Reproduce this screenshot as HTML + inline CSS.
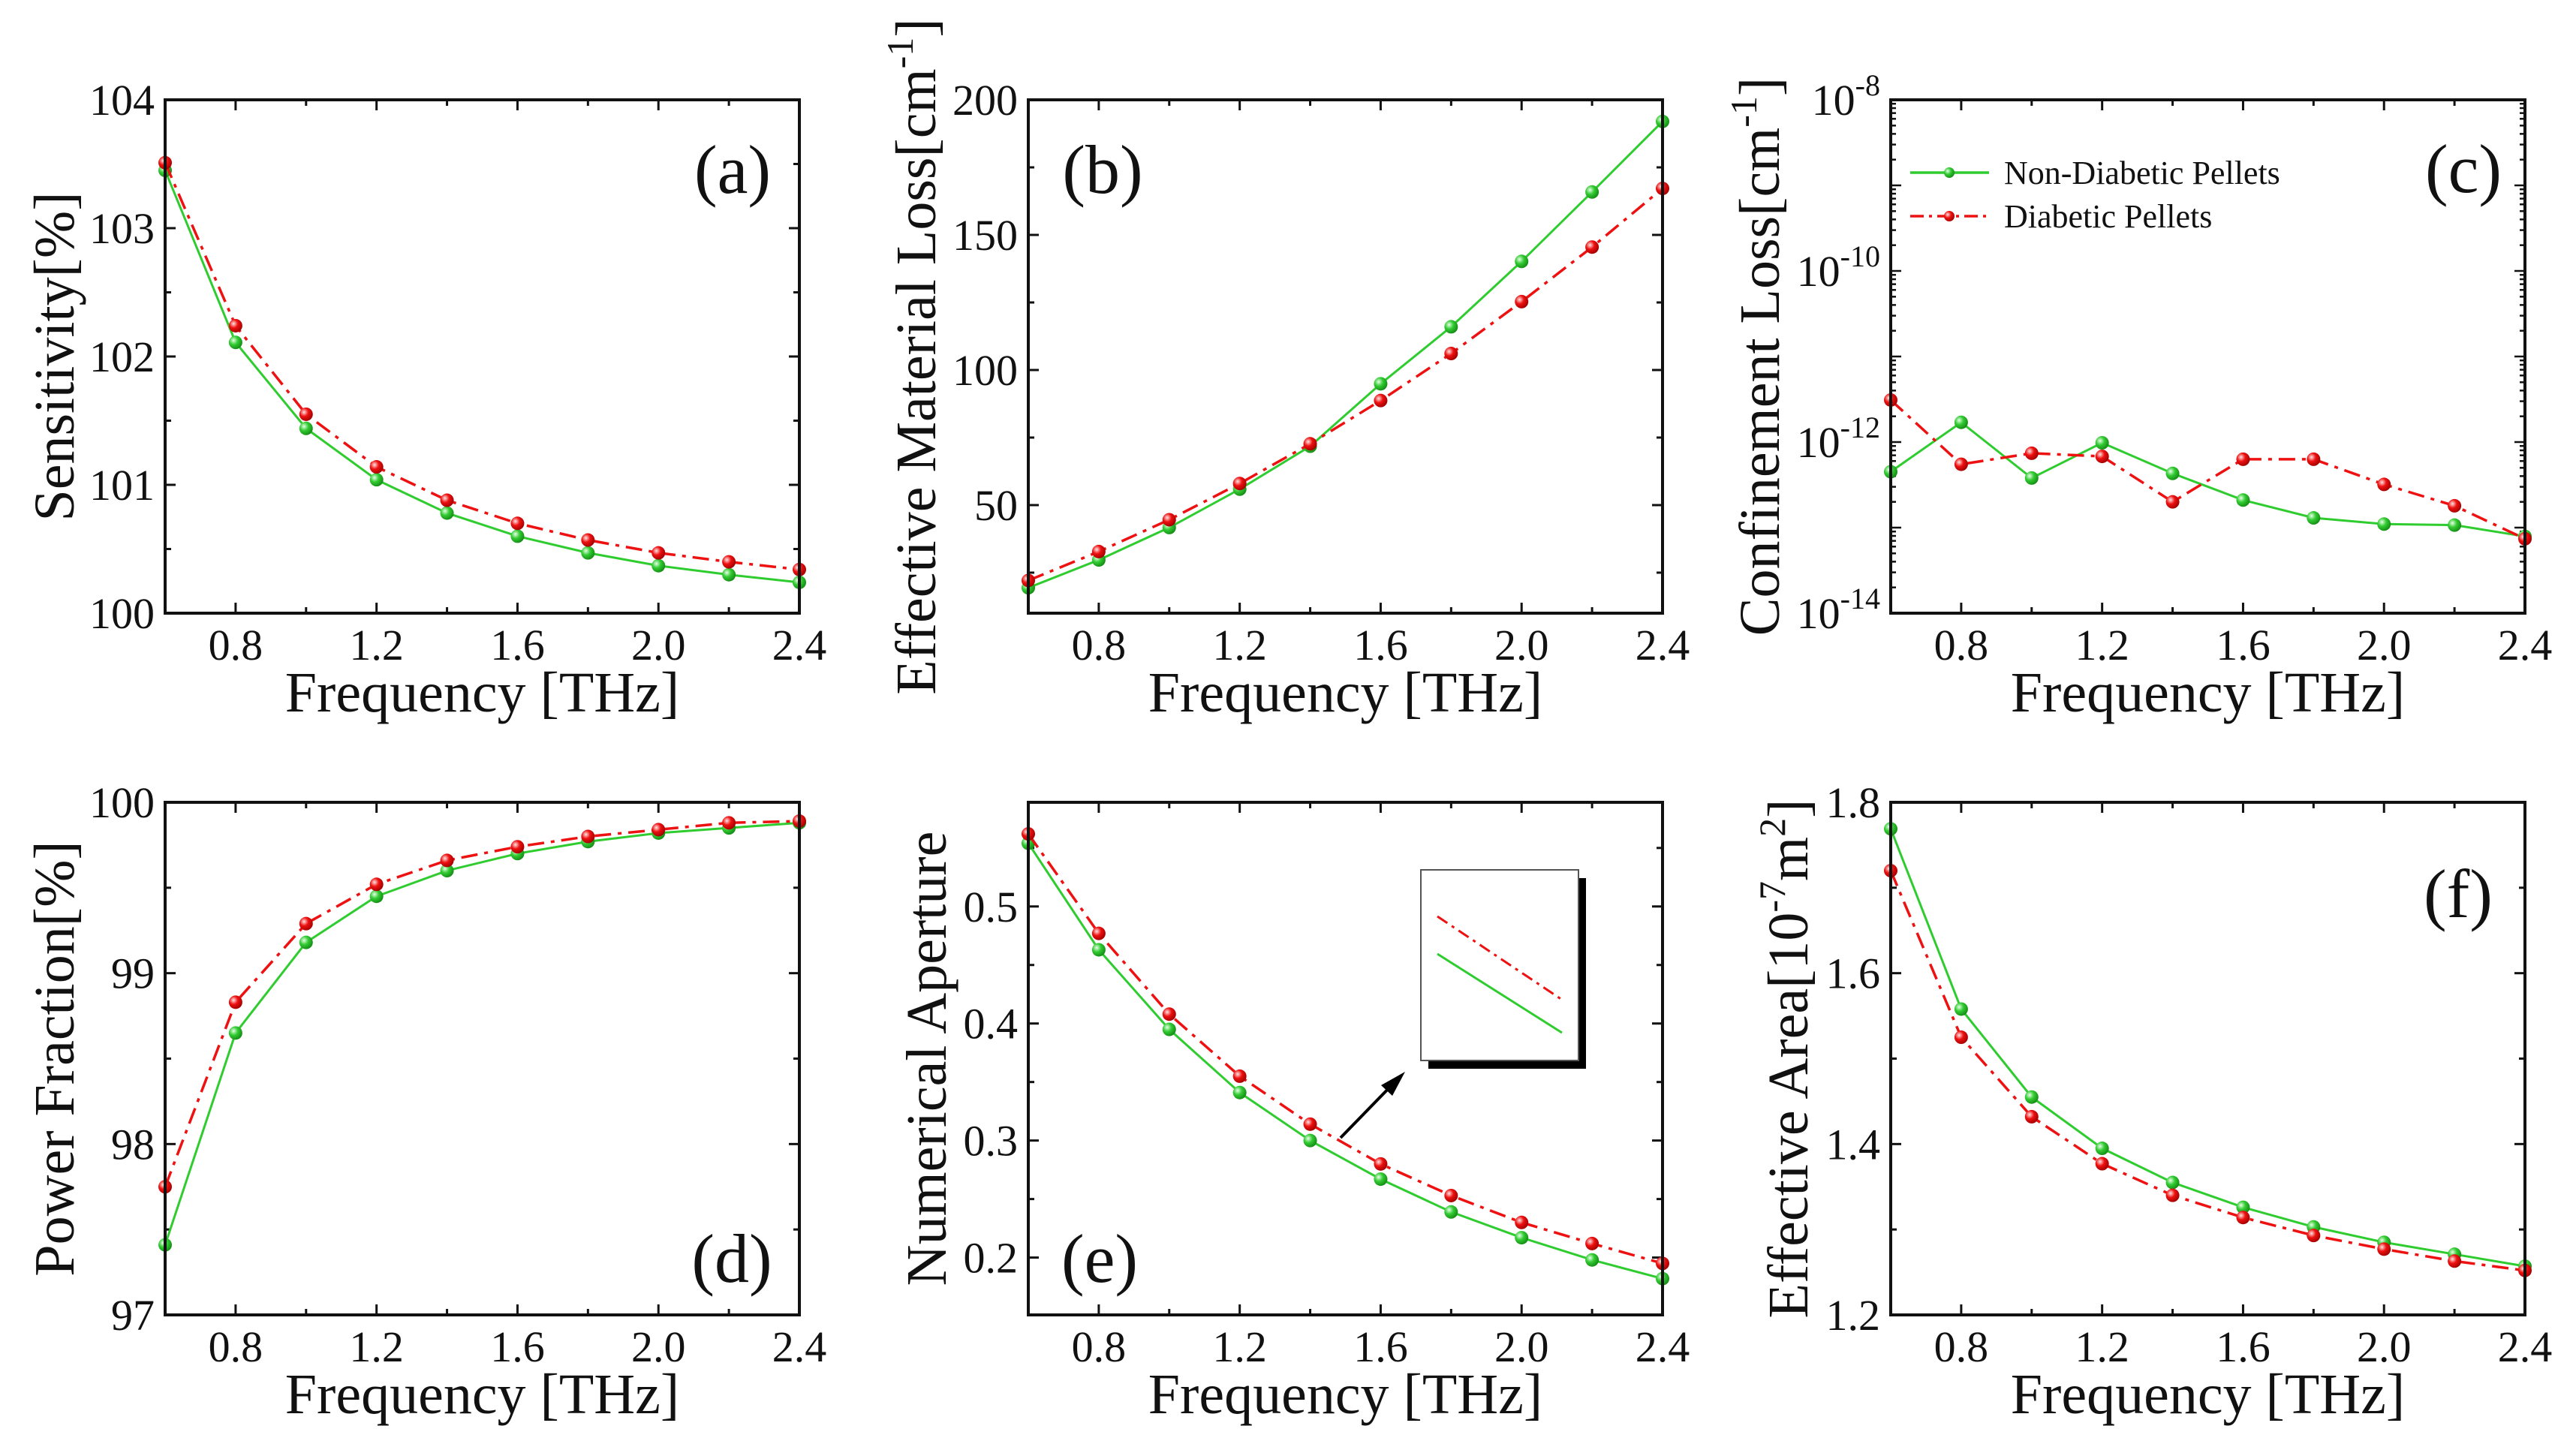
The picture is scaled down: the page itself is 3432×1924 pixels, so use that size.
<!DOCTYPE html>
<html><head><meta charset="utf-8"><style>
html,body{margin:0;padding:0;background:#fff}
svg{display:block}
text{font-family:"Liberation Serif","Times New Roman",serif;fill:#111}
</style></head><body>
<svg id="fig" width="3432" height="1924" viewBox="0 0 3432 1924" xmlns="http://www.w3.org/2000/svg">
<defs>
<radialGradient id="gG" cx="0.35" cy="0.35" r="0.7"><stop offset="0" stop-color="#e8ffe8"/><stop offset="0.45" stop-color="#33cc33"/><stop offset="1" stop-color="#138a13"/></radialGradient>
<radialGradient id="gR" cx="0.35" cy="0.35" r="0.7"><stop offset="0" stop-color="#ffe6e6"/><stop offset="0.45" stop-color="#ee1111"/><stop offset="1" stop-color="#a00000"/></radialGradient>
</defs>
</svg>
<script>
const freq = [0.6,0.8,1.0,1.2,1.4,1.6,1.8,2.0,2.2,2.4];
const xTicks = [0.8,1.2,1.6,2.0,2.4];
const xTickLabels = ["0.8","1.2","1.6","2.0","2.4"];
const sensGreen = [103.45,102.11,101.44,101.04,100.78,100.60,100.47,100.37,100.30,100.24];
const sensRed = [103.51,102.24,101.55,101.14,100.88,100.70,100.57,100.47,100.40,100.34];
const lossGreen = [19.4,29.7,41.7,55.9,71.8,94.9,116,140.2,165.9,192];
const lossRed = [22.1,32.8,44.6,58,72.7,88.7,106.1,125.3,145.5,167.2];
const confGreen = [4.5e-13,1.7e-12,3.8e-13,9.8e-13,4.3e-13,2.1e-13,1.3e-13,1.1e-13,1.07e-13,7.9e-14];
const confRed = [3.1e-12,5.5e-13,7.4e-13,6.8e-13,2.0e-13,6.3e-13,6.3e-13,3.2e-13,1.8e-13,7.4e-14];
const powGreen = [97.41,98.65,99.18,99.45,99.60,99.70,99.77,99.82,99.85,99.88];
const powRed = [97.75,98.83,99.29,99.52,99.66,99.74,99.80,99.84,99.88,99.89];
const naGreen = [0.554,0.463,0.395,0.341,0.300,0.267,0.239,0.217,0.198,0.182];
const naRed = [0.562,0.477,0.408,0.355,0.314,0.280,0.253,0.230,0.212,0.195];
const areaGreen = [1.769,1.558,1.455,1.395,1.355,1.326,1.303,1.285,1.271,1.257];
const areaRed = [1.720,1.525,1.432,1.377,1.340,1.314,1.293,1.277,1.263,1.252];
const sensTicks = [100,101,102,103,104];
const lossTicks = [50,100,150,200];
const confTicks = [-14,-12,-10,-8];
const powTicks = [97,98,99,100];
const naTicks = [0.2,0.3,0.4,0.5];
const areaTicks = [1.2,1.4,1.6,1.8];
const legendLabels = ["Non-Diabetic Pellets","Diabetic Pellets"];

const NS="http://www.w3.org/2000/svg";
const svg=document.getElementById('fig');
function mk(tag,attrs,parent){const e=document.createElementNS(NS,tag);for(const k in attrs)e.setAttribute(k,attrs[k]);(parent||svg).appendChild(e);return e;}

function panel(cfg){
  const g=mk('g',{});
  
  
  const L=cfg.x,T=cfg.y,W=845,H=cfg.h;
  const xs=v=>L+(v-0.6)/1.8*W;
  const ys=cfg.log? v=>T+H-(Math.log10(v)-cfg.ymin)/(cfg.ymax-cfg.ymin)*H : v=>T+H-(v-cfg.ymin)/(cfg.ymax-cfg.ymin)*H;
  for(let v=0.8;v<=2.41;v+=0.2){
    const major=xTicks.some(t=>Math.abs(t-v)<1e-6);const len=major?14:8;const px=xs(v);
    for(const [y0,d] of [[T+H,-1],[T,1]]){
      const tk=mk('line',{x1:px,x2:px,y1:y0,y2:y0+d*len,stroke:'#111','stroke-width':3},g);
      
      
    }
  }
  xTicks.forEach((v,i)=>{
    const t=mk('text',{x:xs(v),y:T+H+62,'font-size':58,'text-anchor':'middle'},g);t.textContent=xTickLabels[i];
    
    
  });
  if(cfg.log){
    for(let d=cfg.ymin;d<cfg.ymax;d++){
      for(let m=1;m<10;m++){
        const v=m*Math.pow(10,d);const py=ys(v);const len=m==1?14:7;
        for(const [x0,s] of [[L,1],[L+W,-1]]){
          const tk=mk('line',{x1:x0,x2:x0+s*len,y1:py,y2:py,stroke:'#111','stroke-width':2.5},g);
          
          
        }
      }
    }
    cfg.ticks.forEach(d=>{
      const t=mk('text',{x:L-14,y:ys(Math.pow(10,d))+20,'font-size':58,'text-anchor':'end'},g);
      
      
      const a=mk('tspan',{},t);a.textContent='10';
      const b=mk('tspan',{dy:-26,'font-size':40},t);b.textContent=String(d);
    });
  } else {
    const step=cfg.minor;
    const start=cfg.minorStart!==undefined?cfg.minorStart:cfg.ymin;
    for(let v=start;v<=cfg.ymax+1e-9;v+=step){
      if(v<cfg.ymin-1e-9)continue;
      const major=cfg.ticks.some(t=>Math.abs(t-v)<1e-6);const len=major?14:8;const py=ys(v);
      for(const [x0,s] of [[L,1],[L+W,-1]]){
        const tk=mk('line',{x1:x0,x2:x0+s*len,y1:py,y2:py,stroke:'#111','stroke-width':3},g);
        
        
      }
    }
    cfg.ticks.forEach(v=>{
      const t=mk('text',{x:L-14,y:ys(v)+20,'font-size':58,'text-anchor':'end'},g);t.textContent=cfg.fmt(v);
      
      
    });
  }
  const series=[[cfg.green,'#2fcc2f','url(#gG)',null,3,'non-diabetic-line'],[cfg.red,'#ee1111','url(#gR)','22 9 5 9',3.5,'diabetic-line']];
  series.forEach(([arr,col,fill,dash,w,nm])=>{
    const pts=arr.map((v,i)=>xs(freq[i])+','+ys(v)).join(' ');
    const pl=mk('polyline',{points:pts,fill:'none',stroke:col,'stroke-width':w},g);
    if(dash)pl.setAttribute('stroke-dasharray',dash);
    
    
    arr.forEach((v,i)=>{
      const c=mk('circle',{cx:xs(freq[i]),cy:ys(v),r:9,fill:fill},g);
      
      
    });
  });
  const fr=mk('rect',{x:L,y:T,width:W,height:H,fill:'none',stroke:'#111','stroke-width':4},g);
  
  
  const xt=mk('text',{x:L+W/2,y:T+H+131,'font-size':76,'text-anchor':'middle'},g);xt.textContent='Frequency [THz]';
  
  
  const yt=mk('text',{x:0,y:0,'font-size':76,'text-anchor':'middle',transform:`translate(${cfg.ytx},${T+H/2}) rotate(-90)`},g);
  
  
  cfg.ytitle.forEach(([s,sup])=>{const sp=mk('tspan',sup?{dy:-30,'font-size':50}:{dy:sup===false?30:0},yt);sp.textContent=s;});
  const pl=mk('text',{x:cfg.lx,y:cfg.ly+30,'font-size':92,'text-anchor':'middle'},g);pl.textContent=cfg.label;
  
  
  return {g,xs,ys};
}

panel({name:'panel-a-sensitivity',x:220,y:133,h:684,ymin:100,ymax:104,minor:0.5,ticks:sensTicks,fmt:v=>String(v),green:sensGreen,red:sensRed,ytx:98,ytitle:[['Sensitivity[%]']],label:'(a)',lx:976,ly:227});
panel({name:'panel-b-material-loss',x:1370,y:133,h:684,ymin:10,ymax:200,minor:25,minorStart:25,ticks:lossTicks,fmt:v=>String(v),green:lossGreen,red:lossRed,ytx:1246,ytitle:[['Effective Material Loss[cm'],['-1',true],[']',false]],label:'(b)',lx:1469,ly:227});
panel({name:'panel-c-confinement-loss',x:2519,y:133,h:684,log:true,ymin:-14,ymax:-8,ticks:confTicks,green:confGreen,red:confRed,ytx:2370,ytitle:[['Confinement Loss[cm'],['-1',true],[']',false]],label:'(c)',lx:3282,ly:226});
panel({name:'panel-d-power-fraction',x:220,y:1069,h:683,ymin:97,ymax:100,minor:0.5,ticks:powTicks,fmt:v=>String(v),green:powGreen,red:powRed,ytx:98,ytitle:[['Power Fraction[%]']],label:'(d)',lx:975,ly:1678});
panel({name:'panel-e-numerical-aperture',x:1370,y:1069,h:683,ymin:0.151,ymax:0.589,minor:0.05,minorStart:0.2,ticks:naTicks,fmt:v=>v.toFixed(1),green:naGreen,red:naRed,ytx:1260,ytitle:[['Numerical Aperture']],label:'(e)',lx:1465,ly:1678});
panel({name:'panel-f-effective-area',x:2519,y:1069,h:683,ymin:1.2,ymax:1.8,minor:0.1,ticks:areaTicks,fmt:v=>v.toFixed(1),green:areaGreen,red:areaRed,ytx:2408,ytitle:[['Effective Area[10'],['-7',true],['m',false],['2',true],[']',false]],label:'(f)',lx:3275,ly:1192});

const lg=mk('g',{});


[['#2fcc2f','url(#gG)',null,230],['#ee1111','url(#gR)','22 9 5 9',288]].forEach((s,i)=>{
  const ln=mk('line',{x1:2545,x2:2650,y1:s[3],y2:s[3],stroke:s[0],'stroke-width':3.5},lg);
  if(s[2])ln.setAttribute('stroke-dasharray','18 7 4 7');
  
  
  const c=mk('circle',{cx:2597,cy:s[3],r:7,fill:s[1]},lg);
  
  
  const t=mk('text',{x:2670,y:s[3]+15,'font-size':44},lg);t.textContent=legendLabels[i];
  
  
});

const ins=mk('g',{});


const sh=mk('rect',{x:1903,y:1170,width:210,height:254,fill:'#000'},ins);


const bx=mk('rect',{x:1893,y:1159,width:210,height:254,fill:'#fff',stroke:'#555','stroke-width':2},ins);


const l1=mk('line',{x1:1915,y1:1221,x2:2081,y2:1332,stroke:'#ee1111','stroke-width':3,'stroke-dasharray':'16 7 4 7'},ins);


const l2=mk('line',{x1:1915,y1:1271,x2:2081,y2:1376,stroke:'#2fcc2f','stroke-width':3},ins);


const ar=mk('line',{x1:1786,y1:1516,x2:1858,y2:1442,stroke:'#000','stroke-width':4},ins);


const ah=mk('polygon',{points:'1872,1428 1840,1446 1855,1460',fill:'#000'},ins);


</script>
</body></html>
